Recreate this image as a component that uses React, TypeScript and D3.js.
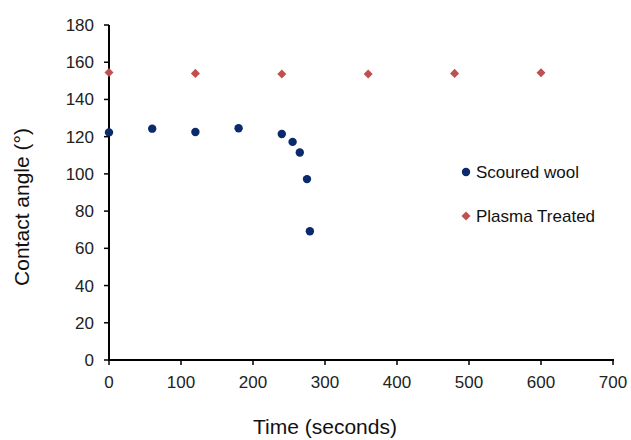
import React from "react";
import * as d3 from "d3";

const scouredTime = [0, 60, 120, 180, 240, 255, 265, 275, 279];
const scouredAngle = [122.3, 124.3, 122.5, 124.5, 121.4, 117.2, 111.5, 97.2, 69.2];
const plasmaTime = [0, 120, 240, 360, 480, 600];
const plasmaAngle = [154.5, 154, 153.7, 153.7, 154, 154.3];
const xTicks = [0, 100, 200, 300, 400, 500, 600, 700];
const yTicks = [0, 20, 40, 60, 80, 100, 120, 140, 160, 180];
const seriesNames = ["Scoured wool", "Plasma Treated"];
const seriesColors = ["#0b2a6b", "#c0504d"];

const W = 631;
const H = 440;
const FONT = "Liberation Sans, Arial, sans-serif";

export default function App() {
  const x = d3.scaleLinear().domain([0, 700]).range([109, 613]);
  const y = d3.scaleLinear().domain([0, 180]).range([360, 25]);
  const diamond = d3.symbol().type(d3.symbolDiamond2).size(52)() as string;

  return (
    <svg
      width={W}
      height={H}
      style={{ position: "absolute", left: 0, top: 0, background: "#fff" }}
      fontFamily={FONT}
    >
      {/* axes */}
      <line x1={x(0)} x2={x(0)} y1={y(180)} y2={y(0)} stroke="#000" strokeWidth={2} />
      <line x1={x(0) - 1} x2={x(700) + 1} y1={y(0)} y2={y(0)} stroke="#000" strokeWidth={2} />
      {yTicks.map((t) => (
        <g key={"y" + t}>
          <line x1={x(0) - 5} x2={x(0)} y1={y(t)} y2={y(t)} stroke="#000" strokeWidth={1.5} />
          <text x={94} y={y(t)} dy="0.35em" textAnchor="end" fontSize={17} fill="#222">
            {t}
          </text>
        </g>
      ))}
      {xTicks.map((t) => (
        <g key={"x" + t}>
          <line x1={x(t)} x2={x(t)} y1={y(0)} y2={y(0) + 5} stroke="#000" strokeWidth={1.5} />
          <text x={x(t)} y={388} textAnchor="middle" fontSize={17} fill="#222">
            {t}
          </text>
        </g>
      ))}
      {/* axis titles */}
      <text x={325} y={434} textAnchor="middle" fontSize={21} fill="#111">
        Time (seconds)
      </text>
      <text
        transform={`translate(29,207) rotate(-90)`}
        textAnchor="middle"
        fontSize={21}
        fill="#111"
      >
        Contact angle (°)
      </text>
      {/* data */}
      {scouredTime.map((t, i) => (
        <circle key={"s" + i} cx={x(t)} cy={y(scouredAngle[i])} r={4.2} fill={seriesColors[0]} />
      ))}
      {plasmaTime.map((t, i) => (
        <path
          key={"p" + i}
          d={diamond}
          transform={`translate(${x(t)},${y(plasmaAngle[i])})`}
          fill={seriesColors[1]}
        />
      ))}
      {/* legend */}
      <circle cx={466} cy={172} r={4.2} fill={seriesColors[0]} />
      <text x={476} y={178} fontSize={17} fill="#111">
        {seriesNames[0]}
      </text>
      <path d={diamond} transform="translate(466,216)" fill={seriesColors[1]} />
      <text x={476} y={222} fontSize={17} fill="#111">
        {seriesNames[1]}
      </text>
    </svg>
  );
}
